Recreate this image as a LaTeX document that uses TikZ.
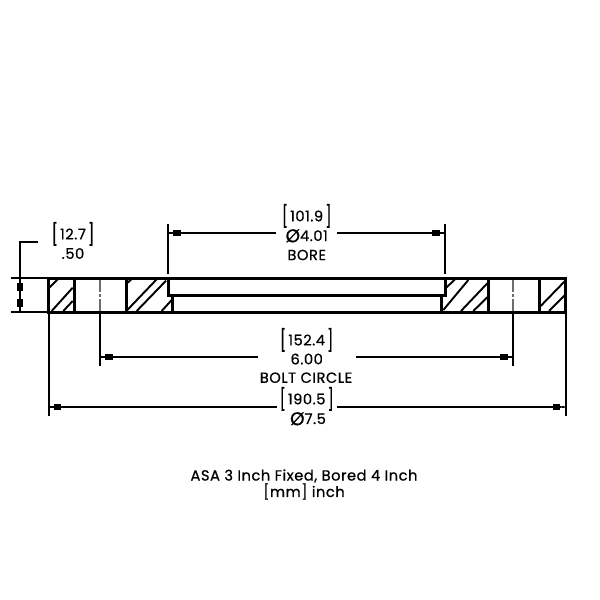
\documentclass[tikz,border=0pt]{standalone}
\usepackage{fontspec}
\setmainfont{Poppins}[FakeBold=0.7,LetterSpace=3.5]
\usetikzlibrary{arrows.meta}
\newcommand{\tallb}[1]{\smash{\raisebox{-1.9pt}{\scalebox{1}[1.45]{#1}}}}
\newcommand{\lbr}{\tallb{[}\kern1.6pt}
\newcommand{\rbr}{\kern1.6pt\tallb{]}}
\newcommand{\bigdia}{\smash{\raisebox{-0.9pt}{\scalebox{1.25}{Ø}}}}
\definecolor{centergray}{RGB}{110,110,110}
\tikzset{
  x=0.75pt,y=-0.75pt,
  outline/.style={line width=2.25pt,line join=miter,line cap=rect},
  hatchline/.style={line width=1.45pt},
  dimline/.style={line width=1.5pt},
  extline/.style={line width=1.5pt},
  centerln/.style={line width=1.8pt,draw=centergray,line cap=butt},
  dimtip/.tip={Rectangle[length=5.6pt,width=4.2pt] Rectangle[length=3.8pt,width=1.5pt]},
  lbl/.style={inner sep=0pt,font=\fontsize{11pt}{12pt}\selectfont,text=black},
  ttl/.style={inner sep=0pt,font=\fontsize{11pt}{12pt}\selectfont,text=black},
}
\begin{document}
\begin{tikzpicture}
\useasboundingbox (0,0) rectangle (600,600);
% named points
\coordinate (TL) at (48.7,278);
\coordinate (TR) at (565.5,278);
\coordinate (BL) at (48.7,312);
\coordinate (BR) at (565.5,312);
\coordinate (HoleLT) at (74,278);
\coordinate (HoleLB) at (74,312);
\coordinate (HoleLRT) at (126.7,278);
\coordinate (HoleLRB) at (126.7,312);
\coordinate (HoleRT) at (488.7,278);
\coordinate (HoleRB) at (488.7,312);
\coordinate (HoleRRT) at (539.5,278);
\coordinate (HoleRRB) at (539.5,312);
\coordinate (BoreLT) at (168,278);
\coordinate (BoreLM) at (168,295.3);
\coordinate (StepLM) at (172.5,295.3);
\coordinate (StepLB) at (172.5,312);
\coordinate (BoreRT) at (445,278);
\coordinate (BoreRM) at (445,295.3);
\coordinate (StepRM) at (441.7,295.3);
\coordinate (StepRB) at (441.7,312);
% hatching
\draw[hatchline] (49,288)--(58,279) (51.7,311)--(72.7,287.7) (63.3,311)--(72.7,301)
  (127.3,283)--(131.7,279) (127.3,310)--(156.7,279.3) (136.7,311)--(166,280.7) (161.7,311)--(171.7,300)
  (446.7,287.3)--(455,279.3) (443.3,310)--(468.3,280) (461,311)--(487.3,283.3) (473.3,311)--(487.3,297.3)
  (540.7,306)--(564.3,281.7) (549,311)--(565,295);
% centre lines
\draw[centerln] (100,279) -- (100,292) (100,294) -- (100,297) (100,299) -- (100,311);
\draw[centerln] (513,279) -- (513,292) (513,294) -- (513,297) (513,299) -- (513,311);
% outline
\draw[outline] (TL) -- (TR) -- (BR) -- (BL) -- cycle;
\draw[outline] (HoleLT) -- (HoleLB) (HoleLRT) -- (HoleLRB) (HoleRT) -- (HoleRB) (HoleRRT) -- (HoleRRB);
\draw[outline] (BoreLT) -- (BoreLM) -- (StepLM) -- (StepLB);
\draw[outline] (BoreRT) -- (BoreRM) -- (StepRM) -- (StepRB);
\draw[outline] (BoreLM) -- (BoreRM);
% text
\node[lbl] (t127) at (73,234) {\lbr 12.7\rbr};
\node[lbl] (t50) at (73,253.5) {.50};
\node[lbl] (t1019) at (306.7,216) {\lbr 101.9\rbr};
\node[lbl] (t401) at (306.7,235.7) {\bigdia 4.01};
\node[lbl] (tbore) at (306.7,255) {BORE};
\node[lbl] (t1524) at (306.7,340) {\lbr 152.4\rbr};
\node[lbl] (t600) at (306.7,359) {6.00};
\node[lbl] (tbolt) at (306,377.7) {BOLT CIRCLE};
\node[lbl] (t1905) at (306.7,399) {\lbr 190.5\rbr};
\node[lbl] (t75) at (308,418.7) {\bigdia 7.5};
\node[ttl] (title1) at (304,476) {ASA 3 Inch Fixed, Bored 4 Inch};
\node[ttl] (title2) at (304,491.5) {[mm] inch};
% extension lines
\coordinate (xa) at (11,278); \coordinate (xb) at (47,278);
\coordinate (xc) at (11,312); \coordinate (xd) at (47,312);
\draw[extline] (xa) -- (xb) (xc) -- (xd);
\coordinate (e1a) at (168,224); \coordinate (e1b) at (168,274);
\coordinate (e2a) at (445,224); \coordinate (e2b) at (445,274);
\draw[extline] (e1a) -- (e1b) (e2a) -- (e2b);
\coordinate (e3) at (100,365.7); \coordinate (e4) at (513,365.7);
\coordinate (e3s) at (100,312); \coordinate (e4s) at (513,312);
\draw[extline] (e3s) -- (e3) (e4s) -- (e4);
\coordinate (e5) at (48.7,415.7); \coordinate (e6) at (565.5,415.7);
\draw[extline] (BL) -- (e5) (BR) -- (e6);
% thickness dimension
\coordinate (v0) at (38,242); \coordinate (v1) at (20,242);
\coordinate (v2) at (20,278); \coordinate (v3) at (20,312); \coordinate (vm) at (20,295);
\draw[dimline] (v0) -- (v1) -- (v2);
\draw[dimline,-{dimtip}] (vm) -- (v2);
\draw[dimline,-{dimtip}] (vm) -- (v3);
% bore dimension
\coordinate (d1a) at (168,233); \coordinate (d1b) at (276,233);
\coordinate (d1c) at (337,233); \coordinate (d1d) at (445,233);
\draw[dimline,-{dimtip}] (d1b) -- (d1a);
\draw[dimline,-{dimtip}] (d1c) -- (d1d);
% bolt dimension
\coordinate (d2a) at (100,356.7); \coordinate (d2b) at (258,356.7);
\coordinate (d2c) at (356,356.7); \coordinate (d2d) at (513,356.7);
\draw[dimline,-{dimtip}] (d2b) -- (d2a);
\draw[dimline,-{dimtip}] (d2c) -- (d2d);
% overall dimension
\coordinate (d3a) at (48.7,407); \coordinate (d3b) at (276.7,407);
\coordinate (d3c) at (337,407); \coordinate (d3d) at (565.5,407);
\draw[dimline,-{dimtip}] (d3b) -- (d3a);
\draw[dimline,-{dimtip}] (d3c) -- (d3d);
\end{tikzpicture}
\end{document}
